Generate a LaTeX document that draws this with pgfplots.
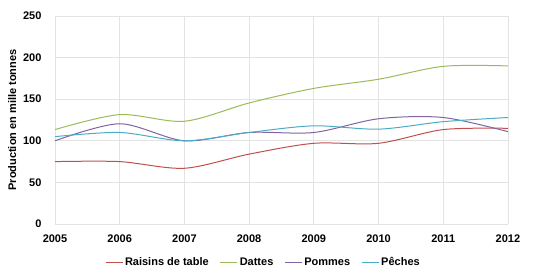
\documentclass[border=0pt]{standalone}
\usepackage{fontspec}
\setmainfont{Liberation Sans}
\usepackage{pgfplots}
\pgfplotsset{compat=1.18}
\definecolor{cRaisin}{HTML}{C0504D}
\definecolor{cDatte}{HTML}{9BBB59}
\definecolor{cPomme}{HTML}{8064A2}
\definecolor{cPeche}{HTML}{4BACC6}
\definecolor{gridc}{HTML}{E3E3E3}
\begin{document}
\begin{tikzpicture}
\begin{axis}[
  scale only axis,
  width=453pt, height=208pt,
  xmin=2005, xmax=2012, ymin=0, ymax=250,
  xtick={2005,...,2012}, ytick={0,50,...,250},
  /pgf/number format/assume math mode=true,
  /pgf/number format/1000 sep={},
  tick label style={font=\bfseries\fontsize{11}{13}\selectfont, text=black},
  ylabel={\bfseries Production en mille tonnes},
  ylabel style={font=\fontsize{11}{13}\selectfont, yshift=0pt},
  grid=major, grid style={gridc, line width=0.8pt},
  axis line style={gridc, line width=0.8pt},
  axis x line*=bottom, axis y line*=left,
  tick style={draw=none},
  xticklabel style={yshift=-7pt},
  yticklabel style={xshift=-10pt},
  legend style={at={(0.46,-0.14)}, anchor=north, legend columns=4, draw=none,
    font=\bfseries\fontsize{11}{13}\selectfont,
    /tikz/every even column/.append style={column sep=9pt}},
  legend image code/.code={\draw[#1,smooth=false] (0pt,0pt) -- (17pt,0pt);},
  every axis plot/.append style={line width=1pt, no marks},
]
\addplot[cRaisin, smooth, tension=0.5] coordinates {(2005,75) (2006,75) (2007,67) (2008,84) (2009,97) (2010,97) (2011,113.5) (2012,115)};
\addlegendentry{Raisins de table}
\addplot[cDatte, smooth, tension=0.5] coordinates {(2005,113.5) (2006,131.5) (2007,123.5) (2008,145.5) (2009,163) (2010,174) (2011,189.5) (2012,190)};
\addlegendentry{Dattes}
\addplot[cPomme, smooth, tension=0.5] coordinates {(2005,100) (2006,120.5) (2007,100) (2008,110) (2009,110) (2010,126.5) (2011,128) (2012,111)};
\addlegendentry{Pommes}
\addplot[cPeche, smooth, tension=0.5] coordinates {(2005,105) (2006,110) (2007,100) (2008,110) (2009,118) (2010,114) (2011,123) (2012,128)};
\addlegendentry{Pêches}
\end{axis}
\path (current axis.south east) ++(28pt,0pt);
\path (current axis.north west) ++(-55pt,16pt);
\end{tikzpicture}
\end{document}
